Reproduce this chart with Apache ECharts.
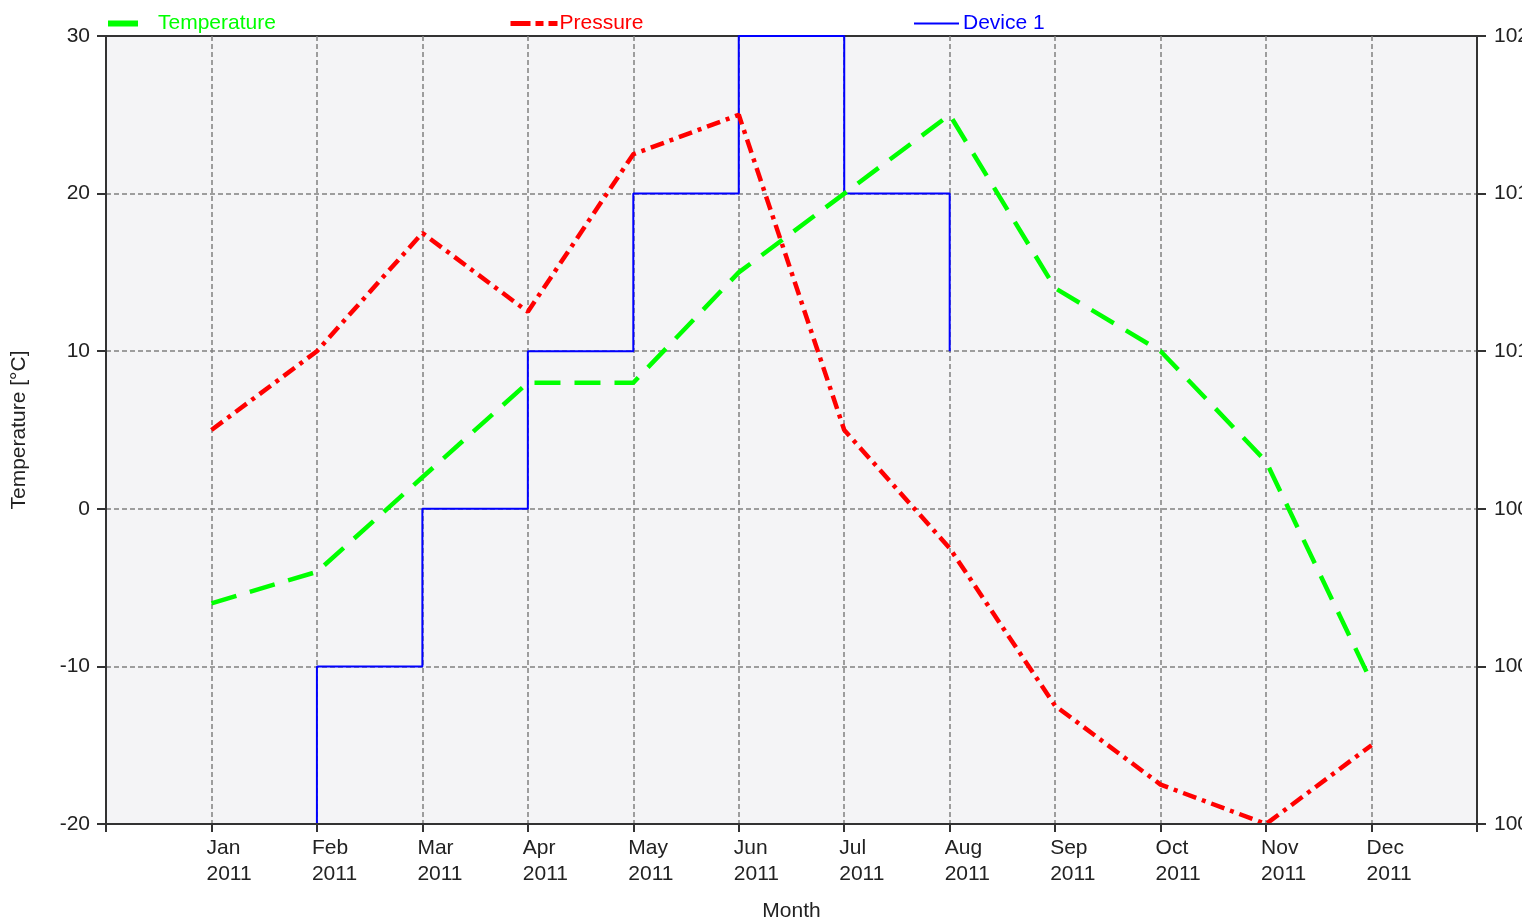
<!DOCTYPE html>
<html>
<head>
<meta charset="utf-8">
<title>Temperature / Pressure</title>
<script src="https://cdn.jsdelivr.net/npm/echarts@6/dist/echarts.min.js"></script>
<style>
  html, body { margin: 0; padding: 0; background: #fff; }
  #chart { width: 1522px; height: 918px; }
</style>
</head>
<body>
<div id="chart"></div>
<script>
// months shown on the x axis (index 0 = Jan)
const months = ["Jan", "Feb", "Mar", "Apr", "May", "Jun", "Jul", "Aug", "Sep", "Oct", "Nov", "Dec"];
const year = "2011";
// temperature [°C], left axis
const temperature = [-6, -4, 2, 8, 8, 15, 20, 25, 14, 10, 3, -11];
// pressure, right axis
const pressure = [1010, 1012, 1015, 1013, 1017, 1018, 1010, 1007, 1003, 1001, 1000, 1002];
// device 1 only runs Jan..Aug (step line, left axis)
const device1 = [-20, -10, 0, 10, 20, 30, 20, 10];
// axis ranges
const tempAxis = { min: -20, max: 30, interval: 10 };
const pressAxis = { min: 1000, max: 1020, interval: 4 };

const FONT = "Liberation Sans";
const FS = 21;
const TXT = "#222";

function toPoints(arr) {
  return arr.map(function (v, i) { return [i, v]; });
}

function legendOf(name, left, width, color, gap, lineStyle) {
  return {
    data: [{ name: name, lineStyle: lineStyle }],
    left: left,
    top: 8,
    itemWidth: width,
    itemHeight: 14,
    itemStyle: { opacity: 0 },
    textStyle: {
      color: color,
      fontFamily: FONT,
      fontSize: FS,
      padding: [0, 0, 0, gap]
    }
  };
}

const gridLine = {
  show: true,
  showMinLine: false,
  showMaxLine: false,
  lineStyle: { color: "#808080", width: 1.5, type: [5, 3] }
};

let option = {
  animation: false,
  textStyle: { fontFamily: FONT },
  grid: {
    left: 106,
    right: 45,
    top: 36,
    bottom: 94,
    outerBoundsMode: "none",
    containLabel: false,
    show: true,
    backgroundColor: "#f4f4f6",
    borderColor: "#333",
    borderWidth: 2
  },
  legend: [
    legendOf("Temperature", 100, 30, "#00ff00", 15, { color: "#00ff00", width: 6, type: "solid" }),
    legendOf("Pressure", 503, 47, "#ff0000", -3, { color: "#ff0000", width: 5, type: [20, 5, 8, 5] }),
    legendOf("Device 1", 908, 45, "#0000ff", -1, { color: "#0000ff", width: 2, type: "solid" })
  ],
  xAxis: [
    {
      // grid lines only
      type: "value",
      min: -1,
      max: 12,
      interval: 1,
      axisLine: { show: false, onZero: false },
      axisTick: { show: false },
      axisLabel: { show: false },
      splitLine: gridLine
    },
    {
      // visible bottom axis, drawn above the series
      type: "value",
      position: "bottom",
      min: -1,
      max: 12,
      interval: 1,
      z: 5,
      axisLine: { onZero: false, lineStyle: { color: "#333", width: 2 } },
      axisTick: { length: 8, lineStyle: { color: "#333", width: 2 } },
      axisLabel: {
        color: TXT,
        fontFamily: FONT,
        fontSize: FS,
        lineHeight: 26,
        align: "left",
        padding: [0, 0, 0, -5],
        margin: 11,
        formatter: function (v) {
          return months[v] ? months[v] + "\n" + year : "";
        }
      },
      splitLine: { show: false },
      name: "Month",
      nameLocation: "middle",
      nameGap: 77,
      nameTextStyle: { color: TXT, fontFamily: FONT, fontSize: FS }
    }
  ],
  yAxis: [
    {
      type: "value",
      position: "left",
      min: tempAxis.min,
      max: tempAxis.max,
      interval: tempAxis.interval,
      axisLine: { show: true, onZero: false, lineStyle: { color: "#333", width: 2 } },
      axisTick: { show: true, length: 9, lineStyle: { color: "#333", width: 2 } },
      axisLabel: { color: TXT, fontFamily: FONT, fontSize: FS, margin: 16 },
      splitLine: gridLine,
      name: "Temperature [°C]",
      nameLocation: "middle",
      nameGap: 76,
      nameTextStyle: { color: TXT, fontFamily: FONT, fontSize: FS }
    },
    {
      type: "value",
      position: "right",
      min: pressAxis.min,
      max: pressAxis.max,
      interval: pressAxis.interval,
      axisLine: { show: true, onZero: false, lineStyle: { color: "#333", width: 2 } },
      axisTick: { show: true, length: 9, lineStyle: { color: "#333", width: 2 } },
      axisLabel: {
        color: TXT,
        fontFamily: FONT,
        fontSize: FS,
        margin: 17,
        formatter: function (v) { return String(v); }
      },
      splitLine: { show: false }
    }
  ],
  series: [
    {
      name: "Temperature",
      type: "line",
      xAxisIndex: 0,
      yAxisIndex: 0,
      symbol: "none",
      z: 3,
      lineStyle: { color: "#00ff00", width: 4.5, type: [26, 14] },
      itemStyle: { color: "#00ff00" },
      data: toPoints(temperature)
    },
    {
      name: "Pressure",
      type: "line",
      xAxisIndex: 0,
      yAxisIndex: 1,
      symbol: "none",
      z: 4,
      lineStyle: { color: "#ff0000", width: 4.5, type: [14, 6, 4, 6] },
      itemStyle: { color: "#ff0000" },
      data: toPoints(pressure)
    },
    {
      name: "Device 1",
      type: "line",
      xAxisIndex: 0,
      yAxisIndex: 0,
      step: "end",
      symbol: "none",
      z: 2,
      lineStyle: { color: "#0000ff", width: 2 },
      itemStyle: { color: "#0000ff" },
      data: toPoints(device1)
    }
  ]
};

let myChart = echarts.init(document.getElementById("chart"));
myChart.setOption(option);
</script>
</body>
</html>
